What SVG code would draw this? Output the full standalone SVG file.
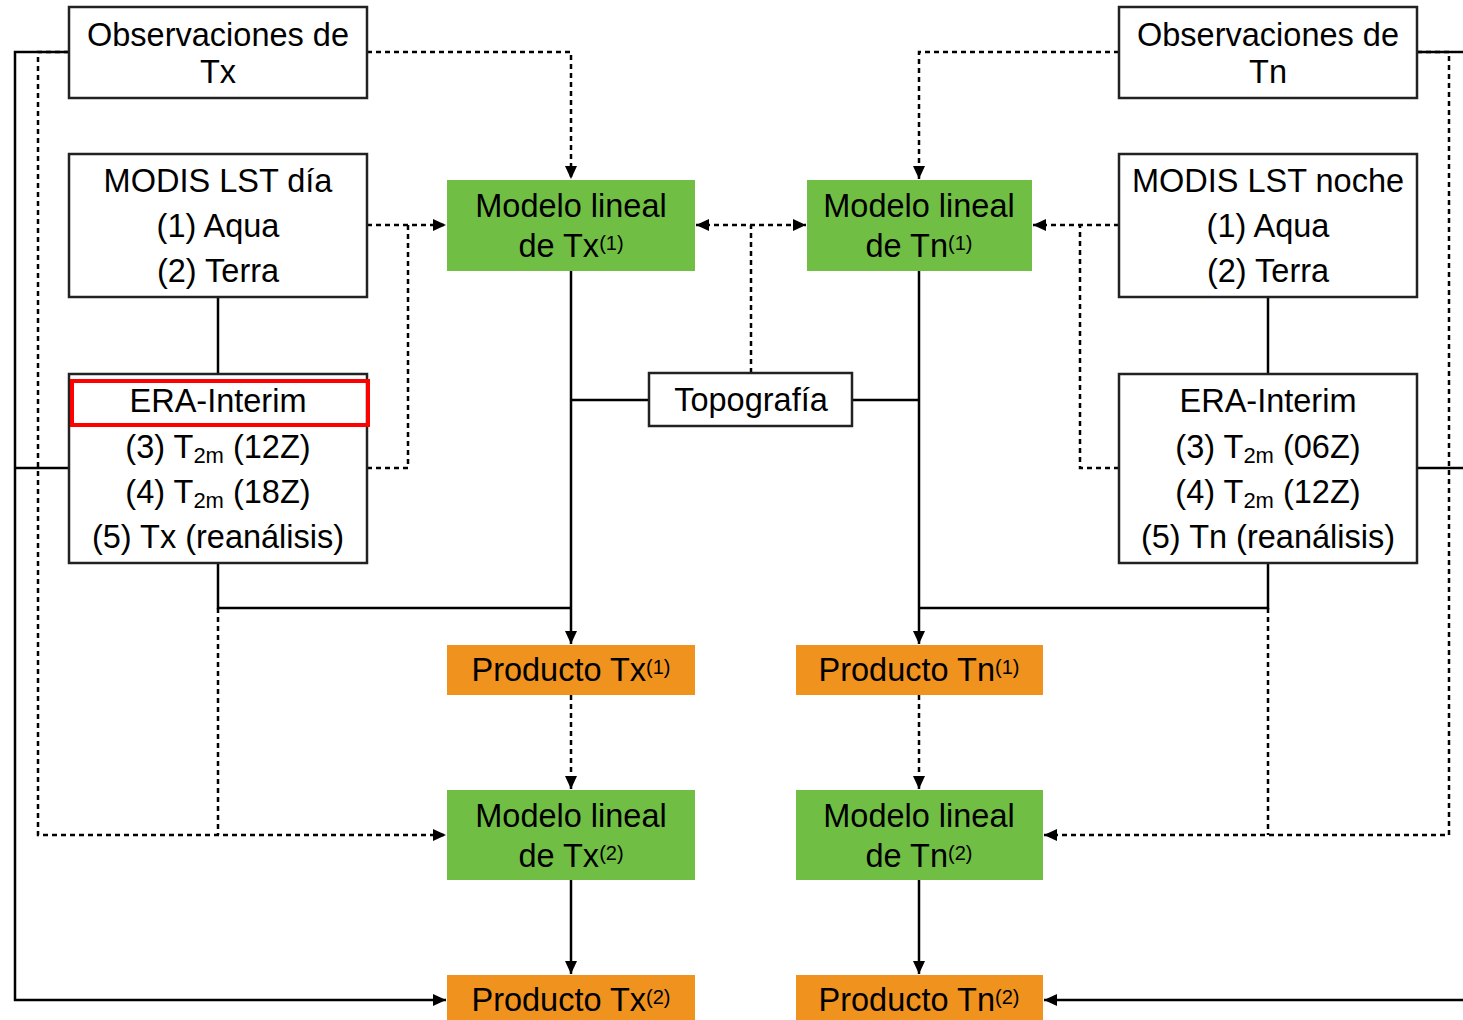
<svg xmlns="http://www.w3.org/2000/svg" width="1463" height="1020" viewBox="0 0 1463 1020">
<style>
text{font-family:"Liberation Sans",Arial,sans-serif;font-size:32.5px;fill:#000;text-anchor:middle}
.box{fill:#fff;stroke:#222;stroke-width:2.5}
.green{fill:#70BF44}
.orange{fill:#F0921E}
.sol{fill:none;stroke:#000;stroke-width:2.5}
.dot{fill:none;stroke:#000;stroke-width:2.5;stroke-dasharray:5 4}
.sup{font-size:20px}
.sub{font-size:22px}
</style>
<defs>
<marker id="ah" markerUnits="userSpaceOnUse" markerWidth="14" markerHeight="14" viewBox="0 0 14 14" refX="13" refY="7" orient="auto-start-reverse">
<path d="M0,1 L13,7 L0,13 Z" fill="#000"/>
</marker>
</defs>
<rect width="1463" height="1020" fill="#fff"/>
<g id="connectors">
<path class="sol" d="M69,52 H15 V1000 H446" marker-end="url(#ah)"/>
<path class="sol" d="M15,468 H69"/>
<path class="dot" d="M69,52 H38 V835 H446" marker-end="url(#ah)"/>
<path class="dot" d="M367,52 H571 V179" marker-end="url(#ah)"/>
<path class="dot" d="M367,225 H446" marker-end="url(#ah)"/>
<path class="dot" d="M367,468 H408 V225"/>
<path class="sol" d="M218,297 V374"/>
<path class="sol" d="M218,563 V608 H571"/>
<path class="dot" d="M218,608 V835"/>
<path class="sol" d="M571,271 V644" marker-end="url(#ah)"/>
<path class="sol" d="M649,400 H571"/>
<path class="sol" d="M852,400 H919"/>
<path class="dot" d="M751,373 V225"/>
<path class="dot" d="M696,225 H806" marker-start="url(#ah)" marker-end="url(#ah)"/>
<path class="sol" d="M919,271 V644" marker-end="url(#ah)"/>
<path class="dot" d="M1119,52 H919 V179" marker-end="url(#ah)"/>
<path class="dot" d="M1119,225 H1033" marker-end="url(#ah)"/>
<path class="dot" d="M1119,468 H1080 V225"/>
<path class="sol" d="M1268,297 V374"/>
<path class="sol" d="M1268,563 V608 H919"/>
<path class="dot" d="M1268,608 V835"/>
<path class="sol" d="M1417,52 H1463"/>
<path class="dot" d="M1417,52 H1449 V835 H1044" marker-end="url(#ah)"/>
<path class="sol" d="M1417,468 H1463"/>
<path class="sol" d="M1463,1000 H1044" marker-end="url(#ah)"/>
<path class="dot" d="M571,695 V789" marker-end="url(#ah)"/>
<path class="sol" d="M571,880 V974" marker-end="url(#ah)"/>
<path class="dot" d="M919,695 V789" marker-end="url(#ah)"/>
<path class="sol" d="M919,880 V974" marker-end="url(#ah)"/>
</g>
<g id="obs-tx">
<rect class="box" x="69" y="7" width="298" height="91"/>
<text x="218" y="46">Observaciones de</text>
<text x="218" y="83">Tx</text>
</g>
<g id="modis-dia">
<rect class="box" x="69" y="154" width="298" height="143"/>
<text x="218" y="192">MODIS LST día</text>
<text x="218" y="237">(1) Aqua</text>
<text x="218" y="282">(2) Terra</text>
</g>
<g id="era-left">
<rect class="box" x="69" y="374" width="298" height="189"/>
<rect x="72" y="381" width="296" height="44" fill="none" stroke="#FF0000" stroke-width="4"/>
<text x="218" y="412">ERA-Interim</text>
<text x="218" y="458">(3) T<tspan class="sub" dy="5">2m</tspan><tspan dy="-5"> (12Z)</tspan></text>
<text x="218" y="503">(4) T<tspan class="sub" dy="5">2m</tspan><tspan dy="-5"> (18Z)</tspan></text>
<text x="218" y="548">(5) Tx (reanálisis)</text>
</g>
<g id="modelo-tx1">
<rect class="green" x="447" y="180" width="248" height="91"/>
<text x="571" y="217">Modelo lineal</text>
<text x="571" y="257">de Tx<tspan class="sup" dy="-7">(1)</tspan></text>
</g>
<g id="modelo-tn1">
<rect class="green" x="807" y="180" width="225" height="91"/>
<text x="919" y="217">Modelo lineal</text>
<text x="919" y="257">de Tn<tspan class="sup" dy="-7">(1)</tspan></text>
</g>
<g id="topografia">
<rect class="box" x="649" y="373" width="203" height="53"/>
<text x="751" y="411">Topografía</text>
</g>
<g id="obs-tn">
<rect class="box" x="1119" y="7" width="298" height="91"/>
<text x="1268" y="46">Observaciones de</text>
<text x="1268" y="83">Tn</text>
</g>
<g id="modis-noche">
<rect class="box" x="1119" y="154" width="298" height="143"/>
<text x="1268" y="192">MODIS LST noche</text>
<text x="1268" y="237">(1) Aqua</text>
<text x="1268" y="282">(2) Terra</text>
</g>
<g id="era-right">
<rect class="box" x="1119" y="374" width="298" height="189"/>
<text x="1268" y="412">ERA-Interim</text>
<text x="1268" y="458">(3) T<tspan class="sub" dy="5">2m</tspan><tspan dy="-5"> (06Z)</tspan></text>
<text x="1268" y="503">(4) T<tspan class="sub" dy="5">2m</tspan><tspan dy="-5"> (12Z)</tspan></text>
<text x="1268" y="548">(5) Tn (reanálisis)</text>
</g>
<g id="producto-tx1">
<rect class="orange" x="447" y="645" width="248" height="50"/>
<text x="571" y="681">Producto Tx<tspan class="sup" dy="-7">(1)</tspan></text>
</g>
<g id="producto-tn1">
<rect class="orange" x="796" y="645" width="247" height="50"/>
<text x="919" y="681">Producto Tn<tspan class="sup" dy="-7">(1)</tspan></text>
</g>
<g id="modelo-tx2">
<rect class="green" x="447" y="790" width="248" height="90"/>
<text x="571" y="827">Modelo lineal</text>
<text x="571" y="867">de Tx<tspan class="sup" dy="-7">(2)</tspan></text>
</g>
<g id="modelo-tn2">
<rect class="green" x="796" y="790" width="247" height="90"/>
<text x="919" y="827">Modelo lineal</text>
<text x="919" y="867">de Tn<tspan class="sup" dy="-7">(2)</tspan></text>
</g>
<g id="producto-tx2">
<rect class="orange" x="447" y="975" width="248" height="50"/>
<text x="571" y="1011">Producto Tx<tspan class="sup" dy="-7">(2)</tspan></text>
</g>
<g id="producto-tn2">
<rect class="orange" x="796" y="975" width="247" height="50"/>
<text x="919" y="1011">Producto Tn<tspan class="sup" dy="-7">(2)</tspan></text>
</g>
</svg>
